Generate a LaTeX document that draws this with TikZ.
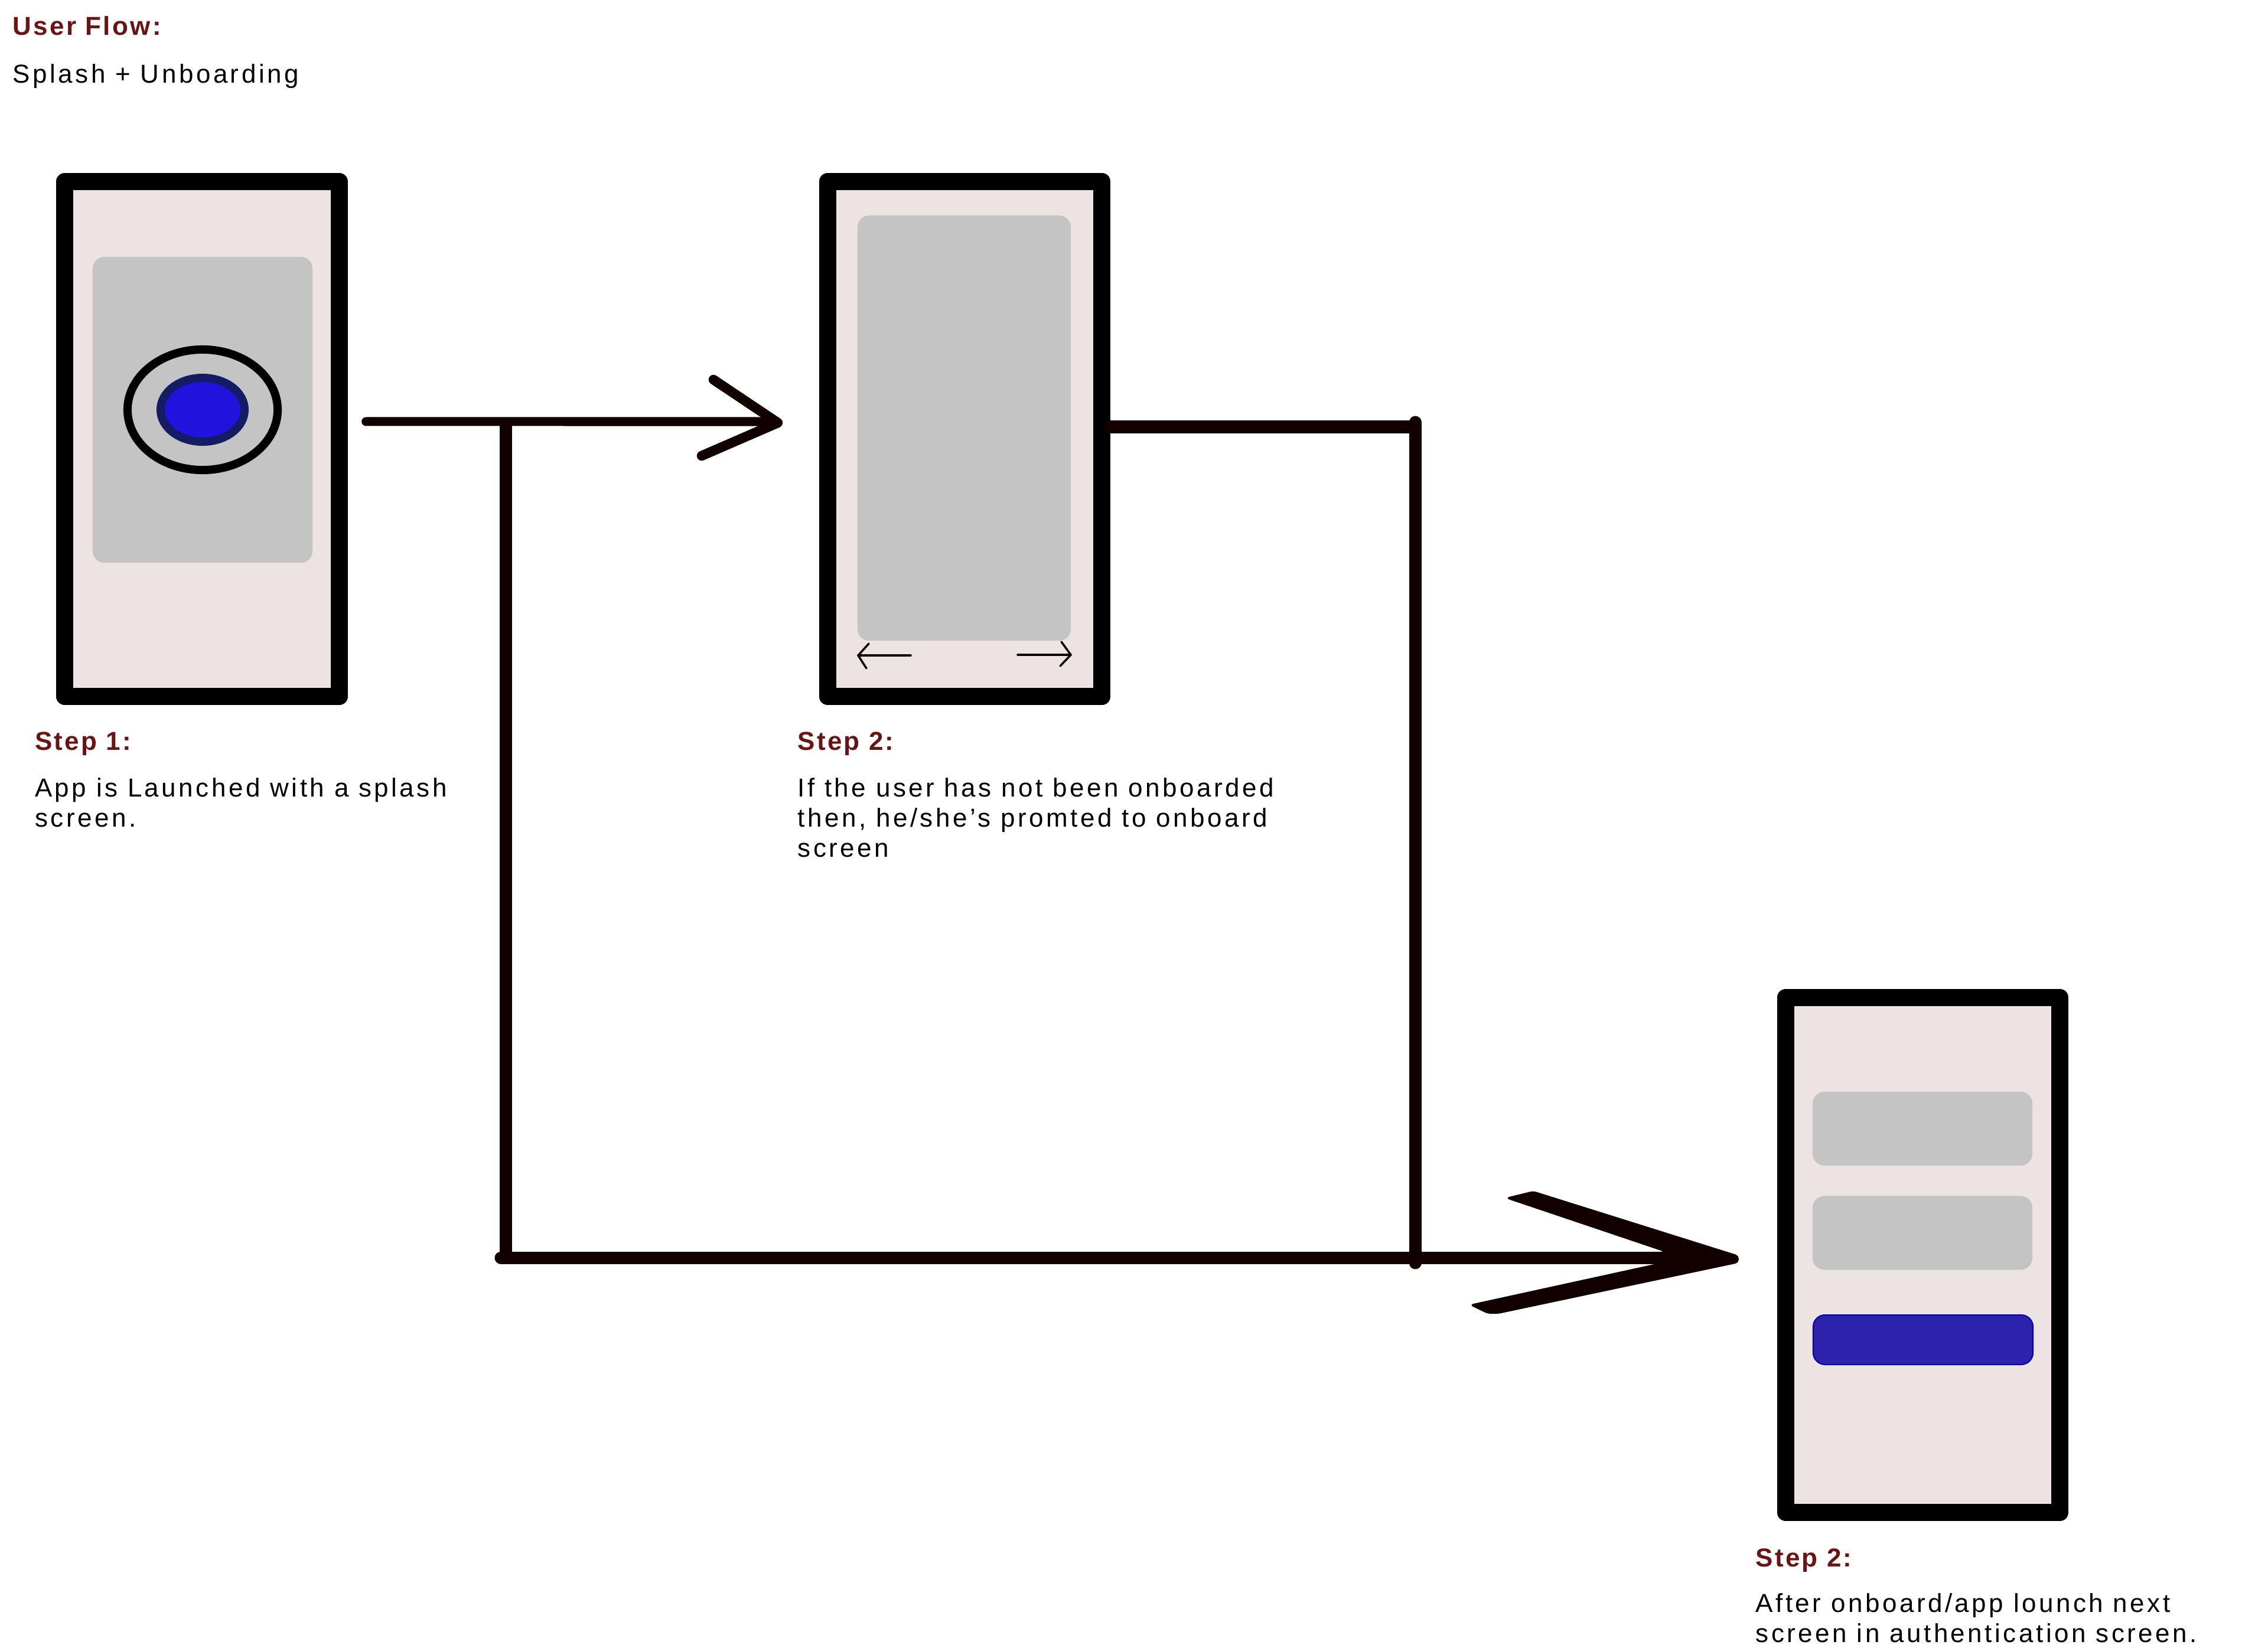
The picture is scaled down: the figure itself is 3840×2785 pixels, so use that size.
\documentclass[tikz,border=0pt]{standalone}
\usepackage{fontspec}
\usepackage{xcolor}
\usepackage{tikz}
\usetikzlibrary{shapes,positioning,calc}
\setmainfont{Liberation Sans}[LetterSpace=10.3,BoldFeatures={LetterSpace=7.5}]
\definecolor{paper}{HTML}{EDE3E3}
\definecolor{panel}{HTML}{C4C4C4}
\definecolor{ink}{HTML}{120000}
\definecolor{maroon}{HTML}{6B1414}
\definecolor{brandfill}{HTML}{2112DD}
\definecolor{brandedge}{HTML}{141C64}
\definecolor{buttonfill}{HTML}{2D22AC}

\begin{document}
\begin{tikzpicture}[
    x=0.01cm, y=-0.01cm,
    phone/.style={rectangle, draw=black, fill=paper, line width=0.29cm, line join=round, minimum width=4.64cm, minimum height=8.72cm, inner sep=0pt},
    panelbox/.style={rectangle, fill=panel, rounded corners=0.2cm, inner sep=0pt},
    field/.style={panelbox, minimum width=3.72cm, minimum height=1.25cm},
    button/.style={rectangle, draw=blue!70!black, fill=buttonfill, line width=0.02cm, rounded corners=0.2cm, minimum width=3.72cm, minimum height=0.84cm, inner sep=0pt},
    heading/.style={font=\fontsize{12.5}{14.5}\selectfont\bfseries, text=maroon, inner sep=0pt, anchor=base west},
    note/.style={font=\fontsize{12.5}{14.5}\selectfont, text=black, inner sep=0pt, align=left, anchor=base west},
    wire/.style={draw=ink, line width=0.15cm, line cap=round, line join=round},
    heavywire/.style={draw=ink, line width=0.21cm, line cap=round, line join=round},
    swipe/.style={draw=black, line width=0.035cm, line cap=round, line join=round}
]
\useasboundingbox (0,0) rectangle (3840,2785);

% Title
\node [heading] (title) at (21,60) {User Flow:};
\node [note, below=0.8cm of title.base west, anchor=base west] (subtitle) {Splash + Unboarding};

% Splash screen
\node [phone] (splash) at (342,743.5) {};
\node [panelbox, minimum width=3.72cm, minimum height=5.18cm] (logopanel) at (343,694) {};
\node [ellipse, draw=black, line width=0.14cm, minimum width=2.54cm, minimum height=2.04cm, inner sep=0pt] (logoring) at (343,694) {};
\node [ellipse, draw=brandedge, fill=brandfill, line width=0.14cm, minimum width=1.42cm, minimum height=1.08cm, inner sep=0pt] (logodot) at (343,694) {};

% Onboarding screen
\node [phone] (onboard) at (1633.5,743.5) {};
\node [panelbox, minimum width=3.61cm, minimum height=7.2cm] (slide) at (1632.5,725) {};

% Authentication screen
\node [phone] (auth) at (3255.5,2125.5) {};
\node [field] (email) at (3255,1911.5) {};
\node [field, below=0.5cm of email] (password) {};
\node [button] (signin) at (3256,2269) {};

% Step labels
\node [heading, below=0.76cm of splash.south west, xshift=-0.37cm, anchor=base west] (step1) {Step 1:};
\node [note, below=1.3cm of step1.base west, anchor=base west] (text1) {App is Launched with a splash\\screen.};

\node [heading, below=0.76cm of onboard.south west, xshift=-0.37cm, anchor=base west] (step2) {Step 2:};
\node [note, below=1.81cm of step2.base west, anchor=base west] (text2) {If the user has not been onboarded\\then, he/she’s promted to onboard\\screen};

\node [heading, below=0.77cm of auth.south west, xshift=-0.37cm, anchor=base west] (step3) {Step 2:};
\node [note, below=1.28cm of step3.base west, anchor=base west] (text3) {After onboard/app lounch next\\screen in authentication screen.};

% Swipe arrows
\coordinate (swipeleft) at (1453,1110);
\coordinate (swiperight) at (1813,1109);
\draw [swipe] (1542,1110) -- (swipeleft);
\draw [swipe] (1471,1090) -- (swipeleft) -- (1467,1132);
\draw [swipe] (1723,1109) -- (swiperight);
\draw [swipe] (1797,1087) -- (swiperight) -- (1795,1128);

% Splash to onboarding
\coordinate (tiponboard) at (1317,716);
\coordinate (shaftonboard) at (1300,714);
\draw [wire] ([xshift=0.31cm,yshift=0.295cm]splash.east) -- (shaftonboard);
\draw [wire, line width=0.165cm] (1208,643) -- (tiponboard) -- (1188,772);

% Branches down to authentication
\coordinate (branchone) at (856,2130);
\coordinate (branchtwo) at (2396,2139);
\coordinate (cornertwo) at (2396,723);
\draw [heavywire, line cap=butt] (856,707) -- (branchone);
\draw [heavywire] (onboard.east |- cornertwo) -- (cornertwo);
\draw [heavywire] (2396,715) -- (branchtwo);
\draw [heavywire] (848,2130) -- (2860,2130);

% Arrow head into authentication
\fill [ink, draw=ink, line width=0.02cm, rounded corners=0.05cm] (2551,2029) -- (2596,2018) -- (2943,2127) -- (2943,2138) -- (2537,2224) -- (2519,2224) -- (2490,2210) -- (2810,2140) -- (2818,2119) -- cycle;

\end{tikzpicture}
\end{document}
